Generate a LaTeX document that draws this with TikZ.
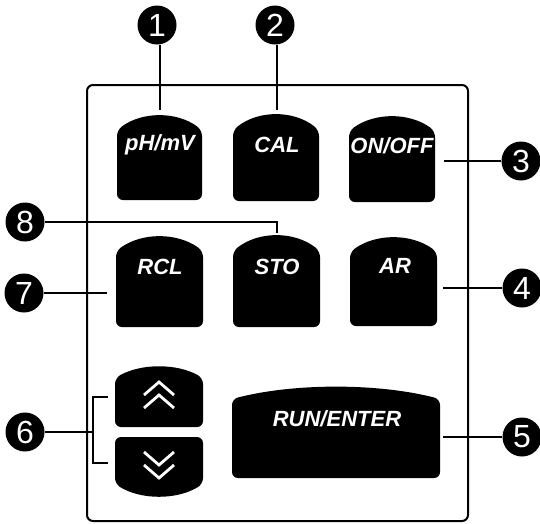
\documentclass[tikz,border=0pt]{standalone}
\usepackage{fontspec}
\setmainfont{Liberation Sans}
\newcommand\archkey[5]{% L R S A B : arched top, flat bottom
  \pgfmathsetmacro\kc{#3+(#4-#3)/0.75}%
  \pgfmathsetmacro\kw{0.3*(#2-#1)}%
  \fill[rounded corners=6pt] ({(#1+#2)/2},#5) -- (#2,#5) -- (#2,#3)
    .. controls ({#2-\kw},\kc) and ({#1+\kw},\kc) .. (#1,#3) -- (#1,#5) -- cycle;}
\newcommand\archdown[5]{% L R T S A : flat top, arched bottom
  \pgfmathsetmacro\kc{#4+(#5-#4)/0.75}%
  \pgfmathsetmacro\kw{0.3*(#2-#1)}%
  \fill[rounded corners=6pt] ({(#1+#2)/2},#3) -- (#2,#3) -- (#2,#4)
    .. controls ({#2-\kw},\kc) and ({#1+\kw},\kc) .. (#1,#4) -- (#1,#3) -- cycle;}
\begin{document}
\begin{tikzpicture}[x=1pt,y=-1pt,
  callout/.style={circle,fill=black,text=white,minimum size=39pt,inner sep=0pt,
    font=\fontsize{32}{32}\selectfont},
  keylabel/.style={text=white,inner sep=0pt,
    font=\fontsize{22}{22}\selectfont\bfseries\itshape},
  lead/.style={line width=1.5pt},
  chev/.style={draw=white,line width=2.8pt,line join=miter}]
\useasboundingbox (0,0) rectangle (540,523);
% panel
\draw[line width=2pt,rounded corners=6pt] (87,85) rectangle (468,521);
% keys
\archkey{117}{202}{130}{116}{200}
\archkey{233}{319}{130}{115}{201}
\archkey{349}{435}{131}{117}{202}
\archkey{116}{203}{251}{237}{327}
\archkey{233}{320}{251}{236}{327}
\archkey{350}{437}{252}{238}{326}
\archkey{115}{203}{378}{367}{427}
\archdown{115}{203}{437}{484}{496}
\archkey{232}{440}{399}{387}{478}
% key labels
\node[keylabel] (k1) at (160,145) {pH/mV};
\node[keylabel] (k2) at (277,145) {CAL};
\node[keylabel] (k3) at (392,146) {ON/OFF};
\node[keylabel] (k7) at (160,267) {RCL};
\node[keylabel] (k8) at (277,267) {STO};
\node[keylabel] (k4) at (395,266) {AR};
\node[keylabel] (k5) at (337,419) {RUN/ENTER};
% chevrons
\draw[chev] (144,395) -- (159,382) -- (174,395);
\draw[chev] (144,408) -- (159,395) -- (174,408);
\draw[chev] (144,452) -- (159,465) -- (174,452);
\draw[chev] (144,465) -- (159,478) -- (174,465);
% callouts
\node[callout] (c1) at (157,25) {1};
\node[callout] (c2) at (275,25) {2};
\node[callout] (c3) at (521,161) {3};
\node[callout] (c4) at (522,288) {4};
\node[callout] (c5) at (522,437) {5};
\node[callout] (c6) at (25,432) {6};
\node[callout] (c7) at (24,293) {7};
\node[callout] (c8) at (25,222) {8};
% connector ends
\coordinate (e1) at (160,110);
\coordinate (e2) at (277,110);
\coordinate (e3) at (444,161);
\coordinate (e4) at (443,288);
\coordinate (e5) at (443,437);
\coordinate (e7) at (107,293);
\coordinate (e8) at (277,233);
\coordinate (b6) at (93,432);
\coordinate (bu) at (108,397);
\coordinate (bd) at (108,463);
% connectors
\draw[lead] (c1.south -| e1) -- (e1);
\draw[lead] (c2.south -| e2) -- (e2);
\draw[lead] (c3) -- (e3);
\draw[lead] (c4) -- (e4);
\draw[lead] (c5) -- (e5);
\draw[lead] (c7) -- (e7);
\draw[lead] (c8) -| (e8);
\draw[lead] (c6) -- (b6);
\draw[lead] (bu) -| (b6) |- (bd);
\end{tikzpicture}
\end{document}
